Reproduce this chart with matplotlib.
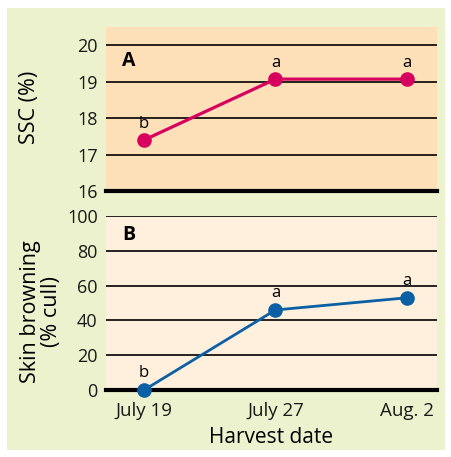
import matplotlib
matplotlib.use('Agg')
import matplotlib.pyplot as plt
from matplotlib.patches import Rectangle

plt.rcParams['font.family'] = ['Open Sans', 'DejaVu Sans']

# data
dates = ['July 19', 'July 27', 'Aug. 2']
ssc = [17.4, 19.07, 19.07]
ssc_letters = ['b', 'a', 'a']
browning = [0, 46, 53]
browning_letters = ['b', 'a', 'a']

pink = '#d8005e'
blue = '#0b5fa5'

W, H = 452, 457
fig = plt.figure(figsize=(W / 100, H / 100), dpi=100)
fig.patch.set_facecolor('white')
fig.patches.append(Rectangle((7 / W, 1 - 450 / H), 438 / W, 442 / H,
                             transform=fig.transFigure, facecolor='#ecf2cd',
                             edgecolor='none', zorder=-10))

ax_a = fig.add_axes([106 / W, 1 - 191 / H, 331 / W, 164 / H])
ax_b = fig.add_axes([106 / W, 1 - 390 / H, 331 / W, 174 / H])

x = list(range(len(dates)))


def style_axis(ax, face, yticks, ylim):
    ax.set_facecolor(face)
    for s in ax.spines.values():
        s.set_visible(False)
    ax.set_xlim(-0.29, 2.23)
    ax.set_ylim(*ylim)
    ax.set_yticks(yticks)
    for t in yticks[1:]:
        ax.axhline(t, color='black', lw=1.2, zorder=1)
    ax.axhline(yticks[0], color='black', lw=3, zorder=1, clip_on=False)
    ax.tick_params(axis='both', length=0, labelsize=13, pad=6, labelcolor='#1a1a1a')


style_axis(ax_a, '#fddfb8', [16, 17, 18, 19, 20], (16, 20.5))
ax_a.plot(x, ssc, color=pink, lw=2.3, marker='o', ms=9.5, zorder=3, clip_on=False)
for xi, yi, lab in zip(x, ssc, ssc_letters):
    ax_a.text(xi, yi + 0.22, lab, ha='center', va='bottom', fontsize=12)
ax_a.set_xticks([])
ax_a.text(-0.17, 19.57, 'A', fontsize=14, fontweight='bold', ha='left', va='center')

style_axis(ax_b, '#fef0dc', [0, 20, 40, 60, 80, 100], (0, 100))
ax_b.plot(x, browning, color=blue, lw=2, marker='o', ms=9.5, zorder=3, clip_on=False)
for xi, yi, lab in zip(x, browning, browning_letters):
    ax_b.text(xi, yi + 5, lab, ha='center', va='bottom', fontsize=12)
ax_b.set_xticks(x)
ax_b.set_xticklabels(dates)
ax_b.tick_params(axis='x', pad=9, labelsize=13.5)
ax_b.text(-0.17, 89, 'B', fontsize=14, fontweight='bold', ha='left', va='center')
ax_b.set_xlabel('Harvest date', fontsize=15, labelpad=5)

fig.text(30 / W, 1 - 107 / H, 'SSC (%)', rotation=90, fontsize=15.5,
         ha='center', va='center')
fig.text(41 / W, 1 - 312 / H, 'Skin browning\n(% cull)', rotation=90,
         fontsize=15.5, ha='center', va='center', linespacing=0.95,
         multialignment='center')

fig.savefig('out.png', dpi=100, facecolor=fig.get_facecolor())
